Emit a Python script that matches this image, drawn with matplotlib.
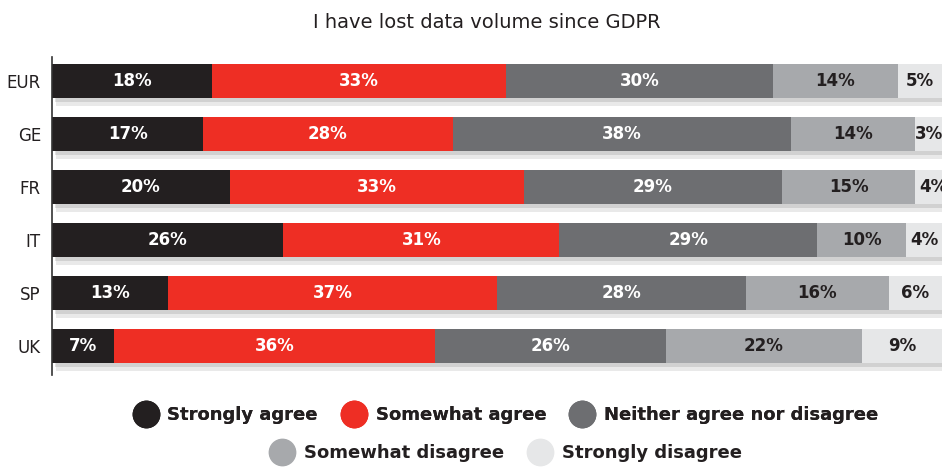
import matplotlib.pyplot as plt
import matplotlib.patheffects as pe
from matplotlib.lines import Line2D

regions = ['EUR', 'GE', 'FR', 'IT', 'SP', 'UK']
strongly_agree = [18, 17, 20, 26, 13, 7]
somewhat_agree = [33, 28, 33, 31, 37, 36]
neither = [30, 38, 29, 29, 28, 26]
somewhat_disagree = [14, 14, 15, 10, 16, 22]
strongly_disagree = [5, 3, 4, 4, 6, 9]

series = [strongly_agree, somewhat_agree, neither, somewhat_disagree, strongly_disagree]
labels = ['Strongly agree', 'Somewhat agree', 'Neither agree nor disagree',
          'Somewhat disagree', 'Strongly disagree']
colors = ['#231f20', '#ee2e24', '#6d6e71', '#a7a9ac', '#e6e7e8']
text_colors = ['white', 'white', 'white', '#231f20', '#231f20']

fig = plt.figure(figsize=(9.42, 4.67), dpi=100)
ax = fig.add_axes([52 / 942, 1 - 375 / 467, 890 / 942, 318 / 467])

# soft drop shadow below each bar
shadow = [pe.SimplePatchShadow(offset=(3, -6), shadow_rgbFace='#888888', alpha=0.18),
          pe.SimplePatchShadow(offset=(2, -3), shadow_rgbFace='#666666', alpha=0.18),
          pe.Normal()]

y = list(range(len(regions)))
left = [0] * len(regions)
for vals, col, tcol in zip(series, colors, text_colors):
    bars = ax.barh(y, vals, left=left, height=0.64, color=col, zorder=2)
    for b in bars:
        b.set_path_effects(shadow)
    for yi, (l, v) in enumerate(zip(left, vals)):
        ax.text(l + v / 2, yi, f'{v}%', ha='center', va='center', color=tcol,
                fontsize=12, fontweight='bold', zorder=3)
    left = [l + v for l, v in zip(left, vals)]

ax.set_xlim(0, 100)
ax.set_ylim(5.55, -0.45)
ax.set_yticks(y)
ax.set_yticklabels(regions, fontsize=12, color='#231f20')
ax.tick_params(axis='y', length=0, pad=8)
ax.set_xticks([])
for s in ['top', 'right', 'bottom']:
    ax.spines[s].set_visible(False)
ax.spines['left'].set_color('#333333')
ax.spines['left'].set_linewidth(1.2)

fig.text(487 / 942, 1 - 22 / 467, 'I have lost data volume since GDPR', ha='center', va='center',
         fontsize=14, color='#231f20')

handles = [Line2D([], [], marker='o', linestyle='none', markersize=19,
                  markerfacecolor=c, markeredgecolor=c) for c in colors]
leg1 = fig.legend(handles[:3], labels[:3], loc='center', bbox_to_anchor=(503 / 942, 1 - 415 / 467),
                  ncol=3, frameon=False, prop={'weight': 'bold', 'size': 13},
                  handletextpad=0.2, columnspacing=1.0, labelcolor='#231f20')
leg2 = fig.legend(handles[3:], labels[3:], loc='center', bbox_to_anchor=(503 / 942, 1 - 453 / 467),
                  ncol=2, frameon=False, prop={'weight': 'bold', 'size': 13},
                  handletextpad=0.2, columnspacing=1.0, labelcolor='#231f20')
fig.add_artist(leg1)

plt.savefig('out.png', dpi=100)
